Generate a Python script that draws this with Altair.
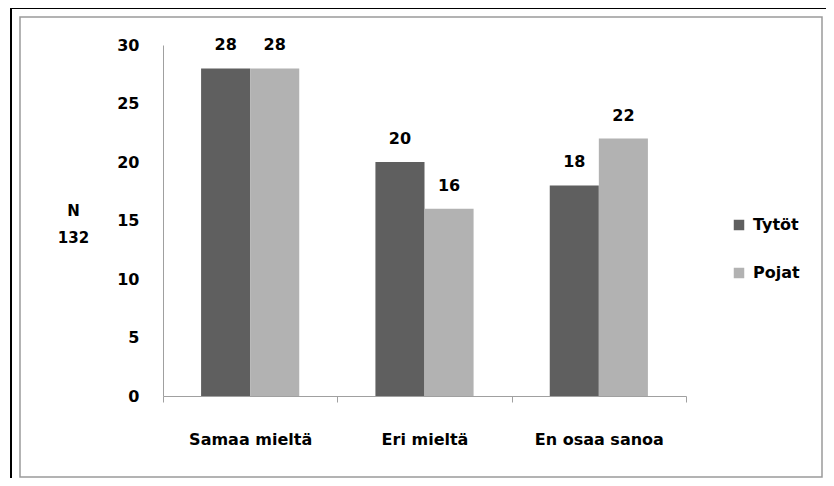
import altair as alt
import pandas as pd

categories = ["Samaa mieltä", "Eri mieltä", "En osaa sanoa"]
groups = ["Tytöt", "Pojat"]
tytot = [28, 20, 18]
pojat = [28, 16, 22]
y_ticks = [0, 5, 10, 15, 20, 25, 30]
colors = ["#5f5f5f", "#b2b2b2"]

rows = []
for i, c in enumerate(categories):
    rows.append({"cat": c, "grp": groups[0], "val": tytot[i]})
    rows.append({"cat": c, "grp": groups[1], "val": pojat[i]})
df = pd.DataFrame(rows)

FONT = "DejaVu Sans"
FS = 16

x_enc = alt.X("cat:N", sort=categories,
              scale=alt.Scale(paddingInner=0, paddingOuter=0),
              axis=alt.Axis(title=None, labelAngle=0, labelFont=FONT, labelFontWeight="bold",
                            labelFontSize=FS, labelColor="#000", labelPadding=37,
                            domainColor="#a0a0a0", tickColor="#a0a0a0", tickSize=6,
                            tickBand="extent", labelBaseline="middle"))
y_enc = alt.Y("val:Q", scale=alt.Scale(domain=[0, 30]),
              axis=alt.Axis(values=y_ticks, grid=False, ticks=False, domainColor="#a0a0a0",
                            labelFont=FONT, labelFontWeight="bold", labelFontSize=FS,
                            labelColor="#000", labelPadding=24,
                            title=["N", "132"], titleAngle=0, titleX=-90, titleY=165,
                            titleAlign="center", titleBaseline="middle", titleFont=FONT,
                            titleFontWeight="bold", titleFontSize=15, titleLineHeight=27,
                            titleColor="#000"))
xo = alt.XOffset("grp:N", sort=groups, scale=alt.Scale(paddingInner=0, paddingOuter=0.776))

color = alt.Color("grp:N", sort=groups, scale=alt.Scale(domain=groups, range=colors),
                  legend=alt.Legend(title=None, orient="none", legendX=568, legendY=172,
                                    symbolType="square", symbolSize=110, symbolStrokeWidth=0,
                                    labelFont=FONT, labelFontWeight="bold", labelFontSize=FS,
                                    labelColor="#000", rowPadding=32, labelOffset=6))

bars = alt.Chart(df).mark_bar().encode(x=x_enc, xOffset=xo, y=y_enc, color=color)
labels = alt.Chart(df).mark_text(dy=-23, font=FONT, fontWeight="bold", fontSize=FS,
                                 color="#000", baseline="middle").encode(
    x=alt.X("cat:N", sort=categories), xOffset=xo, y="val:Q", text="val:Q")

border_df = pd.DataFrame({"k": [0]})
outer = alt.Chart(border_df).mark_rect(fill=None, stroke="#000", strokeWidth=2).encode(
    x=alt.value(-152), x2=alt.value(700), y=alt.value(-37), y2=alt.value(460))
inner = alt.Chart(border_df).mark_rect(fill=None, stroke="#9a9a9a", strokeWidth=1.5).encode(
    x=alt.value(-143), x2=alt.value(659), y=alt.value(-28), y2=alt.value(432))

chart = alt.layer(outer, inner, bars, labels).properties(
    width=523, height=351,
    background="#ffffff",
    autosize=alt.AutoSizeParams(type="none"),
    padding={"left": 155, "top": 37, "right": 140, "bottom": 82},
).configure_view(strokeWidth=0)

chart.save("out.html", embed_options={"renderer": "svg", "actions": False})
